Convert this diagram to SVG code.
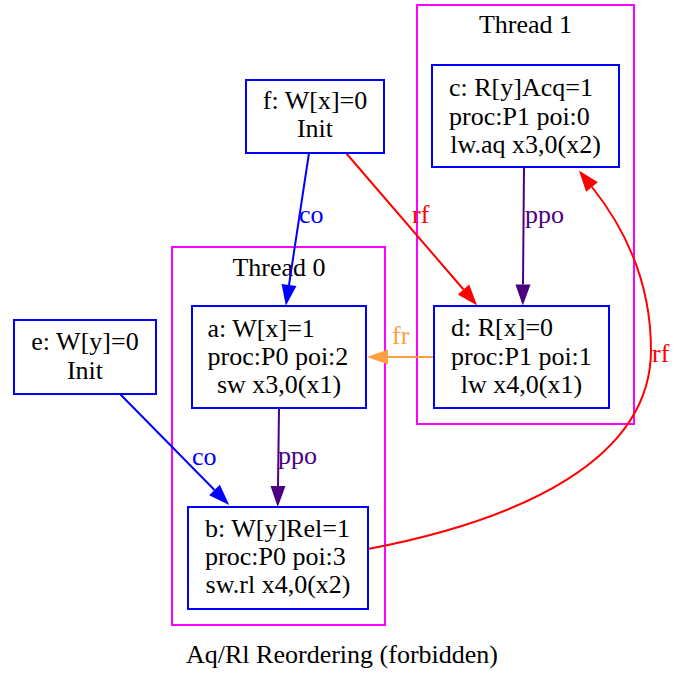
<svg xmlns="http://www.w3.org/2000/svg" width="684" height="677" viewBox="0 0 684 677">
<style>
text{font-family:"Liberation Serif","Times New Roman",serif;font-size:26px;fill:#000}
.cl{fill:none;stroke:#ff00ff;stroke-width:2}
.nd{fill:#fff;stroke:#0000ff;stroke-width:2}
.e{fill:none;stroke-width:2}
.co{stroke:#0000ff}.rf{stroke:#ff0000}.ppo{stroke:#4b0082}.fr{stroke:#ffa040}
.tco{fill:#0000ff}.trf{fill:#ff0000}.tppo{fill:#4b0082}.tfr{fill:#ffa040}
.m{text-anchor:middle}
</style>
<defs>
<marker id="ablue" markerUnits="userSpaceOnUse" markerWidth="22" markerHeight="16" refX="0" refY="8" orient="auto" overflow="visible"><path d="M0,0.5 L21,8 L0,15.5 z" fill="#0000ff"/></marker>
<marker id="ared" markerUnits="userSpaceOnUse" markerWidth="22" markerHeight="16" refX="0" refY="8" orient="auto" overflow="visible"><path d="M0,0.5 L21,8 L0,15.5 z" fill="#ff0000"/></marker>
<marker id="aind" markerUnits="userSpaceOnUse" markerWidth="22" markerHeight="16" refX="0" refY="8" orient="auto" overflow="visible"><path d="M0,0.5 L21,8 L0,15.5 z" fill="#4b0082"/></marker>
<marker id="aorg" markerUnits="userSpaceOnUse" markerWidth="22" markerHeight="16" refX="0" refY="8" orient="auto" overflow="visible"><path d="M0,0.5 L21,8 L0,15.5 z" fill="#ffa040"/></marker>
</defs>
<rect width="684" height="677" fill="#fff"/>
<g id="cluster_thread1">
<rect class="cl" x="417" y="5" width="217" height="419"/>
<text class="m" x="525.5" y="33">Thread 1</text>
</g>
<g id="cluster_thread0">
<rect class="cl" x="172" y="247" width="213" height="378"/>
<text class="m" x="279" y="276">Thread 0</text>
</g>
<g id="edges">
<path class="e co" d="M309,153 L289,285" marker-end="url(#ablue)"/>
<text class="tco" x="299" y="223">co</text>
<path class="e rf" d="M346,153 L463.5,289.5" marker-end="url(#ared)"/>
<text class="trf" x="412" y="223">rf</text>
<path class="e ppo" d="M524,167 L523,284.5" marker-end="url(#aind)"/>
<text class="tppo" x="525" y="223">ppo</text>
<path class="e fr" d="M434,357 L388,357" marker-end="url(#aorg)"/>
<text class="tfr" x="392" y="344">fr</text>
<path class="e ppo" d="M279,408 L278,486" marker-end="url(#aind)"/>
<text class="tppo" x="278" y="464">ppo</text>
<path class="e co" d="M120,394 L214.5,490" marker-end="url(#ablue)"/>
<text class="tco" x="192" y="465">co</text>
<path class="e rf" d="M368,549 C520,520 651,460 651,350 C651,290 630.5,235.5 592,187" marker-end="url(#ared)"/>
<text class="trf" x="652" y="362">rf</text>
</g>
<g id="node_f">
<rect class="nd" x="246" y="80" width="138" height="73"/>
<text class="m" x="315" y="109">f: W[x]=0</text>
<text class="m" x="315" y="137">Init</text>
</g>
<g id="node_e">
<rect class="nd" x="14" y="320" width="142" height="74"/>
<text class="m" x="85" y="350">e: W[y]=0</text>
<text class="m" x="85" y="379">Init</text>
</g>
<g id="node_c">
<rect class="nd" x="432" y="65" width="187" height="102"/>
<text x="449" y="96">c: R[y]Acq=1</text>
<text x="449" y="124.5">proc:P1 poi:0</text>
<text class="m" x="525.5" y="153">lw.aq x3,0(x2)</text>
</g>
<g id="node_d">
<rect class="nd" x="434" y="306" width="175" height="102"/>
<text x="451" y="336">d: R[x]=0</text>
<text x="451" y="364.5">proc:P1 poi:1</text>
<text class="m" x="521.5" y="393">lw x4,0(x1)</text>
</g>
<g id="node_a">
<rect class="nd" x="192" y="306" width="174" height="102"/>
<text x="207.5" y="337">a: W[x]=1</text>
<text x="207.5" y="365">proc:P0 poi:2</text>
<text class="m" x="279" y="393">sw x3,0(x1)</text>
</g>
<g id="node_b">
<rect class="nd" x="188" y="507" width="180" height="102"/>
<text x="205" y="537">b: W[y]Rel=1</text>
<text x="205" y="565">proc:P0 poi:3</text>
<text class="m" x="278" y="593">sw.rl x4,0(x2)</text>
</g>
<text class="m" x="342" y="663">Aq/Rl Reordering (forbidden)</text>
</svg>
